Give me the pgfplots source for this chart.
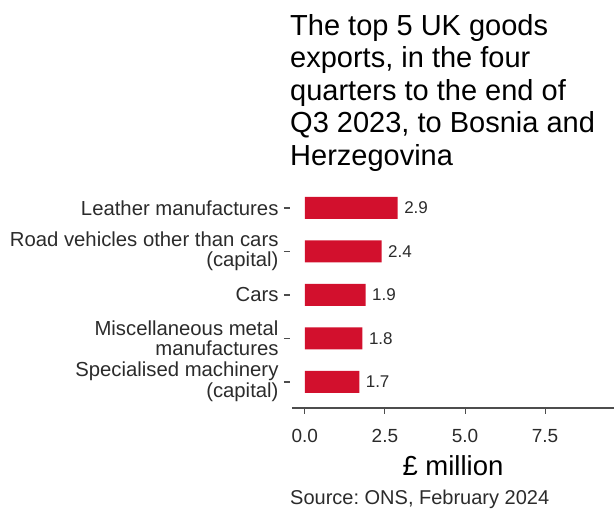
\documentclass[border=0pt]{standalone}
\usepackage{pgfplots}
\pgfplotsset{compat=1.18}
\usepackage{fontspec}
\setmainfont{Liberation Sans}
\frenchspacing
\definecolor{barred}{HTML}{D2102D}
\definecolor{axisgray}{HTML}{4D4D4D}
\definecolor{txtgray}{HTML}{2B2B2B}
\begin{document}
\begin{tikzpicture}[x=1pt,y=1pt]
\useasboundingbox (0,0) rectangle (614,510);
\node[anchor=north west, inner sep=0, align=left, font=\fontsize{29}{32.5}\selectfont] at (290,496) {The top 5 UK goods\\exports, in the four\\quarters to the end of\\Q3 2023, to Bosnia and\\Herzegovina};
\begin{axis}[
 at={(292pt,102pt)}, anchor=south west,
 scale only axis, width=322pt, height=218pt,
 xmin=-0.4, xmax=9.65, ymin=-0.6, ymax=4.41,
 axis x line=bottom, axis y line=left,
 x axis line style={draw=axisgray, line width=1.8pt, -},
 y axis line style={draw=none, -},
 tick align=outside,
 major tick length=6pt,
 xtick style={draw=axisgray, line width=1pt},
 ytick style={draw=axisgray, line width=1.4pt, xshift=-2pt},
 xtick={0,2.5,5,7.5},
 xticklabels={0.0,2.5,5.0,7.5},
 xticklabel style={font=\fontsize{19}{23}\selectfont, text=txtgray, yshift=-12pt},
 ytick={0,1,2,3,4},
 yticklabels={{Specialised machinery\\(capital)},{Miscellaneous metal\\manufactures},Cars,{Road vehicles other than cars\\(capital)},Leather manufactures},
 yticklabel style={align=right, font=\fontsize{20.3}{20.5}\selectfont, text=txtgray, xshift=-4pt, inner ysep=0pt},
 xlabel={£ million},
 xlabel style={at={(axis description cs:0.5,0)}, anchor=center, yshift=-58pt, font=\fontsize{27.5}{30}\selectfont, text=black},
 /pgf/number format/assume math mode=true,
 xbar, bar width=22pt, bar shift=0pt,
 point meta=explicit symbolic,
 nodes near coords,
 nodes near coords style={anchor=west, xshift=3pt, font=\fontsize{17}{20}\selectfont, text=txtgray},
]
\addplot[fill=barred, draw=none] coordinates {
 (2.9,4) [2.9]
 (2.4,3) [2.4]
 (1.9,2) [1.9]
 (1.8,1) [1.8]
 (1.7,0) [1.7]
};
\end{axis}
\node[anchor=base west, inner sep=0, font=\fontsize{20}{22}\selectfont, text=txtgray] at (290,5) {Source: ONS, February 2024};
\end{tikzpicture}
\end{document}
